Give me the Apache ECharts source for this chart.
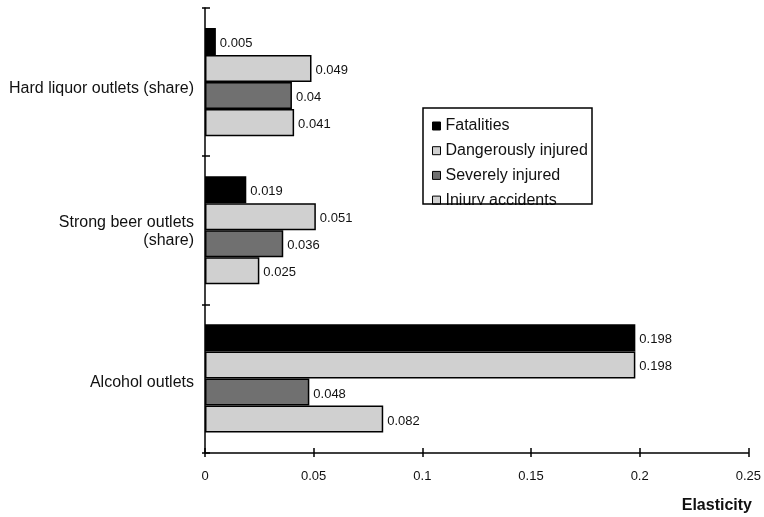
<!DOCTYPE html>
<html>
<head>
<meta charset="utf-8">
<script src="https://cdn.jsdelivr.net/npm/echarts@6/dist/echarts.min.js"></script>
<style>
html,body{margin:0;padding:0;background:#fff;}
#chart{width:764px;height:517px;}
</style>
</head>
<body>
<div id="chart"></div>
<script>
// Categories (bottom to top as ECharts draws a category y-axis)
var categories = ['Alcohol outlets', 'Strong beer outlets\n(share)', 'Hard liquor outlets (share)'];
// Series values, same order as categories
var fatalities  = [0.198, 0.019, 0.005];
var dangerously = [0.198, 0.051, 0.049];
var severely    = [0.048, 0.036, 0.040];
var injury      = [0.082, 0.025, 0.041];
// Value axis ticks
var xMin = 0, xMax = 0.25, xInterval = 0.05;
var legendOrder = ['Fatalities', 'Dangerously injured', 'Severely injured', 'Injury accidents'];
var axisTitle = 'Elasticity';

// Style only: extra space above each category label (label sits a little low in the original)
var labelSpacer = ['s0', 's1', 's2'];

var FONT = '"Liberation Sans", Arial, sans-serif';
var chart = echarts.init(document.getElementById('chart'), null, {renderer: 'canvas'});

function barSeries(name, data, color) {
  return {
    name: name,
    type: 'bar',
    data: data,
    xAxisIndex: 0,
    yAxisIndex: 0,
    barGap: '0%',
    barCategoryGap: '27%',
    itemStyle: {color: color, borderColor: '#000', borderWidth: 1.5},
    label: {
      show: true,
      position: 'right',
      distance: 4,
      offset: [0, 2],
      fontFamily: FONT,
      fontSize: 13,
      color: '#111'
    },
    emphasis: {disabled: true},
    animation: false
  };
}

var option = {
  animation: false,
  backgroundColor: '#fff',
  grid: {left: 205, right: 14, top: 8, bottom: 64.5, containLabel: false},
  xAxis: [
    {
      type: 'value', min: xMin, max: xMax, interval: xInterval, position: 'bottom',
      axisLine: {show: true, lineStyle: {color: '#000', width: 1.5}},
      axisTick: {show: true, inside: false, length: 4.5, lineStyle: {color: '#000', width: 1.5}},
      axisLabel: {fontFamily: FONT, fontSize: 13, color: '#111', margin: 17},
      splitLine: {show: false}
    },
    {
      type: 'value', min: xMin, max: xMax, interval: xInterval, position: 'bottom', offset: 0,
      axisLine: {show: false},
      axisTick: {show: true, inside: true, length: 4.5, lineStyle: {color: '#000', width: 1.5}},
      axisLabel: {show: false},
      splitLine: {show: false}
    }
  ],
  yAxis: [
    {
      type: 'category', data: categories, position: 'left',
      axisLine: {show: true, onZero: false, lineStyle: {color: '#000', width: 1.5}},
      axisTick: {show: true, inside: false, length: 3, alignWithLabel: false, lineStyle: {color: '#000', width: 1.5}},
      axisLabel: {
        fontFamily: FONT, fontSize: 16, color: '#111', margin: 11, align: 'right',
        formatter: function (value, index) {
          var lines = String(value).split('\n').map(function (l) { return '{t|' + l + '}'; });
          return '{' + labelSpacer[index] + '| }\n' + lines.join('\n');
        },
        rich: {
          t: {fontFamily: FONT, fontSize: 16, color: '#111', lineHeight: 18, align: 'right'},
          s0: {fontSize: 1, lineHeight: 8},
          s1: {fontSize: 1, lineHeight: 3},
          s2: {fontSize: 1, lineHeight: 13}
        }
      },
      splitLine: {show: false}
    },
    {
      type: 'category', data: categories, position: 'left', offset: 0,
      axisLine: {show: false, onZero: false},
      axisTick: {show: true, inside: true, length: 5, alignWithLabel: false, lineStyle: {color: '#000', width: 1.5}},
      axisLabel: {show: false},
      splitLine: {show: false}
    }
  ],
  legend: {
    data: legendOrder,
    orient: 'vertical',
    left: 427,
    top: 113,
    itemWidth: 8,
    itemHeight: 8,
    itemGap: 8.7,
    icon: 'rect',
    selectedMode: false,
    itemStyle: {borderColor: '#000', borderWidth: 1},
    textStyle: {fontFamily: FONT, fontSize: 16, color: '#111', lineHeight: 16, padding: [0, 0, 0, 0]}
  },
  series: [
    barSeries('Fatalities', fatalities, '#000000'),
    barSeries('Dangerously injured', dangerously, '#d0d0d0'),
    barSeries('Severely injured', severely, '#707070'),
    barSeries('Injury accidents', injury, '#d0d0d0')
  ],
  graphic: [
    {
      type: 'rect', z: 100,
      shape: {x: 420, y: 205, width: 175, height: 8},
      style: {fill: '#fff'}
    },
    {
      type: 'rect', z: 101,
      shape: {x: 423, y: 108, width: 169, height: 96},
      style: {fill: 'none', stroke: '#000', lineWidth: 1.5}
    },
    {
      type: 'text', z: 101,
      style: {
        x: 752, y: 506, text: axisTitle, align: 'right', verticalAlign: 'middle',
        font: 'bold 16px ' + FONT, fill: '#111'
      }
    }
  ]
};
chart.setOption(option);
</script>
</body>
</html>
